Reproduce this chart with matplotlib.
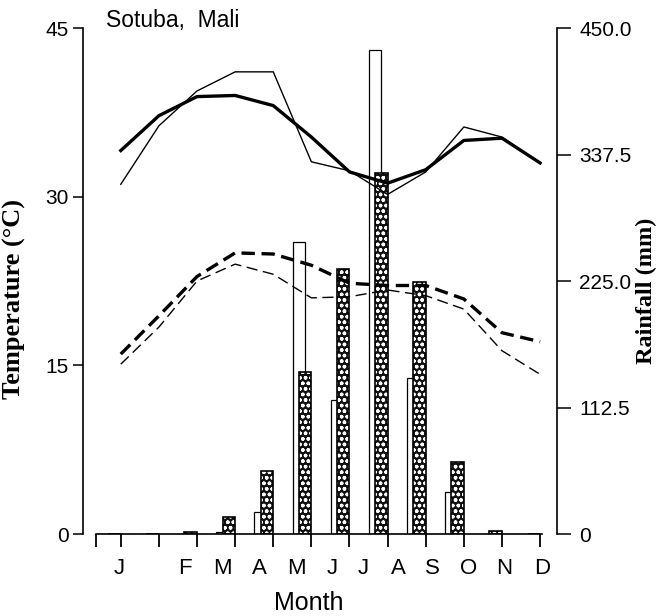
import matplotlib.pyplot as plt
import numpy as np

plt.rcParams['font.family'] = ['Liberation Sans', 'DejaVu Sans']
plt.rcParams['hatch.linewidth'] = 1.0

months = ['J', 'F', 'M', 'A', 'M', 'J', 'J', 'A', 'S', 'O', 'N', 'D']

# monthly temperatures (deg C)
tmax_mean = [34.1, 37.2, 38.9, 39.0, 38.1, 35.3, 32.2, 31.2, 32.4, 35.0, 35.2, 33.0]
tmax_year = [31.1, 36.3, 39.4, 41.1, 41.1, 33.1, 32.3, 30.2, 32.2, 36.2, 35.3, 33.0]
tmin_mean = [16.0, 19.4, 22.9, 25.0, 24.9, 23.9, 22.3, 22.1, 22.1, 20.9, 17.9, 17.1]
tmin_year = [15.1, 18.4, 22.5, 24.0, 23.1, 21.0, 21.1, 21.7, 21.2, 20.0, 16.3, 14.2]

# monthly rainfall (mm)
rain_year = [0, 0, 0, 2, 20, 260, 119, 430, 139, 37, 0, 0]
rain_mean = [0, 0, 2, 15, 56, 144, 236, 321, 224, 64, 3, 0]

temp_ticks = [0, 15, 30, 45]
rain_ticks = [0, 112.5, 225.0, 337.5, 450.0]
rain_labels = ['0', '112.5', '225.0', '337.5', '450.0']

# where the month letters sit along the axis
label_x = [-0.05, 1.69, 2.66, 3.63, 4.60, 5.54, 6.36, 7.29, 8.18, 9.13, 10.07, 11.05]

x = np.arange(len(months))
bw = 0.33

fig = plt.figure(figsize=(6.71, 6.16), dpi=100)
ax = fig.add_axes([96 / 671, 1 - 534 / 616, 446 / 671, 506 / 616])
ax2 = ax.twinx()
ax.set_zorder(ax2.get_zorder() + 1)
ax.patch.set_visible(False)

# rainfall bars
ax2.bar(x - 1.5 * bw, rain_year, width=bw, align='edge', facecolor='white',
        edgecolor='black', linewidth=0.9)
ax2.bar(x - bw, rain_mean, width=bw, align='edge', facecolor='#111111',
        edgecolor='white', hatch='ooo', linewidth=0)
ax2.bar(x - bw, rain_mean, width=bw, align='edge', fill=False,
        edgecolor='black', linewidth=1.2)

# temperature lines
ax.plot(x, tmax_mean, color='black', lw=2.4)
ax.plot(x, tmax_year, color='black', lw=1.0)
ax.plot(x, tmin_mean, color='black', lw=2.4, dashes=(4, 2))
ax.plot(x, tmin_year, color='black', lw=1.0, dashes=(8, 4))

xmin = -0.65
ax.set_xlim(xmin, 11)
ax.set_ylim(0, 45)
ax2.set_ylim(0, 450)

ax.set_yticks(temp_ticks)
ax.tick_params(axis='y', labelsize=15, length=7, width=1.1, pad=3)
ax2.set_yticks(rain_ticks, rain_labels)
ax2.tick_params(axis='y', labelsize=15, length=10, width=1.1, pad=6)

ax.set_xticks(label_x, months)
ax.set_xticks(np.concatenate([[xmin], x]), minor=True)
ax.tick_params(axis='x', which='major', length=0, labelsize=16, pad=17)
ax.tick_params(axis='x', which='minor', length=9, width=1.3, direction='out')

for s in ['top', 'right']:
    ax.spines[s].set_visible(False)
for s in ['top', 'left', 'bottom']:
    ax2.spines[s].set_visible(False)
ax.spines['left'].set_position(('outward', 9.5))
ax2.spines['right'].set_position(('outward', 11))
for sp in [ax.spines['left'], ax.spines['bottom'], ax2.spines['right']]:
    sp.set_linewidth(1.2)

ax.set_ylabel('Temperature (°C)', family=['Liberation Serif', 'DejaVu Serif'],
              fontsize=19, fontweight='bold')
ax.yaxis.set_label_coords(-0.158, 0.465)
ax2.set_ylabel('Rainfall (mm)', family=['Liberation Serif', 'DejaVu Serif'],
               fontsize=17.5, fontweight='bold', rotation=90)
ax2.yaxis.set_label_coords(1.21, 0.48)

fig.text(106 / 671, 1 - 21 / 616, 'Sotuba,  Mali', fontsize=16.5, va='center')
fig.text(309 / 671, 1 - 603 / 616, 'Month', fontsize=18, ha='center', va='center')

fig.savefig('out.png', dpi=100)
